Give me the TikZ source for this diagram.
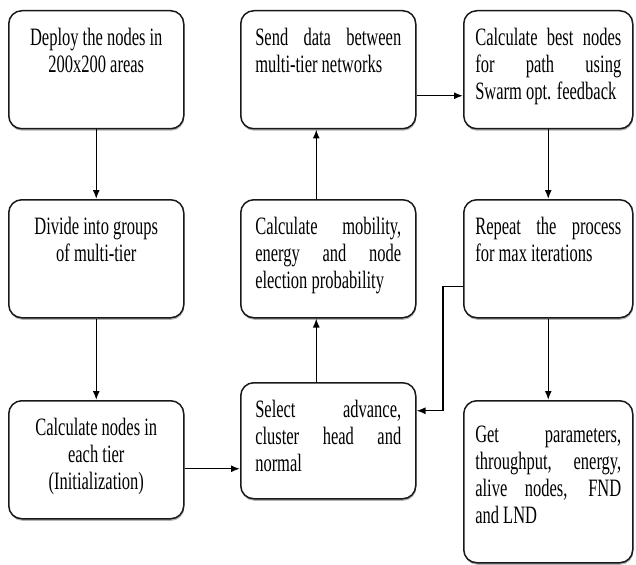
\documentclass[tikz,border=0pt]{standalone}
\usepackage{fontspec}
\setmainfont{Liberation Serif}[FakeStretch=0.66]
\usepackage{tikz}
\usetikzlibrary{arrows,arrows.meta,positioning,calc,shapes,shadows}
\tikzset{% boxes and arrows of the flow
	stepbox/.style={draw=black!90, line width=1.5pt, rounded corners=13pt, fill=white,
		anchor=north west, inner sep=0pt, minimum height=118pt,
		drop shadow={shadow xshift=0.5pt, shadow yshift=-2pt, fill=black!50, opacity=.6}},
	flowarrow/.style={draw=black, line width=1.4pt, -{Latex[length=9pt,width=7pt]}}
}
% text of a box: [gap above] {width} {height} {lines}
\newcommand{\boxtext}[4][16pt]{\parbox[c][#3][t]{#2}{\sloppy\vspace*{#1}\strut#4}}

\begin{document}
\begin{tikzpicture}[x=1pt,y=-1pt,font=\fontsize{25}{27}\selectfont]
\useasboundingbox (0,0) rectangle (636,564);
% first column
\node[stepbox, minimum width=175pt] (deploy) at (8,10)
	{\boxtext{150pt}{118pt}{\centering Deploy the nodes in\\200x200 areas}};
\node[stepbox, minimum width=175pt] (divide) at (8,199)
	{\boxtext{150pt}{118pt}{\centering Divide into groups\\of multi-tier}};
\node[stepbox, minimum width=175pt] (initnodes) at (8,400)
	{\boxtext{150pt}{118pt}{\centering Calculate nodes in\\each tier\\(Initialization)}};
% second column
\node[stepbox, minimum width=175pt] (senddata) at (240,10)
	{\boxtext{146pt}{118pt}{Send data between\linebreak multi-tier networks}};
\node[stepbox, minimum width=175pt] (mobility) at (240,199)
	{\boxtext{146pt}{118pt}{Calculate mobility,\linebreak energy and node\linebreak election probability}};
\node[stepbox, minimum width=175pt, minimum height=116pt] (select) at (240,382)
	{\boxtext{146pt}{116pt}{Select advance,\linebreak cluster head and\linebreak normal}};
% third column
\node[stepbox, minimum width=169pt] (bestnodes) at (463,10)
	{\boxtext{146pt}{118pt}{Calculate best nodes\linebreak for path using\linebreak Swarm opt. feedback}};
\node[stepbox, minimum width=169pt] (repeat) at (463,199)
	{\boxtext{146pt}{118pt}{Repeat the process\linebreak for max iterations}};
\node[stepbox, minimum width=169pt, minimum height=162pt] (results) at (463,400)
	{\boxtext[23pt]{146pt}{162pt}{Get parameters,\linebreak throughput, energy,\linebreak alive nodes, FND\linebreak and LND}};

\draw[flowarrow] (deploy.south) -- (divide.north);
\draw[flowarrow] (divide.south) -- (initnodes.north);
\draw[flowarrow] ([yshift=-9pt]initnodes.east) -- ([yshift=-9pt]initnodes.east -| select.west);
\draw[flowarrow] ([xshift=-12pt]select.north) -- ([xshift=-12pt]mobility.south);
\draw[flowarrow] ([xshift=-12pt]mobility.north) -- ([xshift=-12pt]senddata.south);
\draw[flowarrow] ([yshift=-26pt]senddata.east) -- ([yshift=-26pt]senddata.east -| bestnodes.west);
\draw[flowarrow] (bestnodes.south) -- (repeat.north);
\draw[flowarrow] (repeat.south) -- (results.north);
\draw[flowarrow] ([yshift=-28pt]repeat.west) -- ++(-20,0) |- ([yshift=30pt]select.east);
\end{tikzpicture}
\end{document}
